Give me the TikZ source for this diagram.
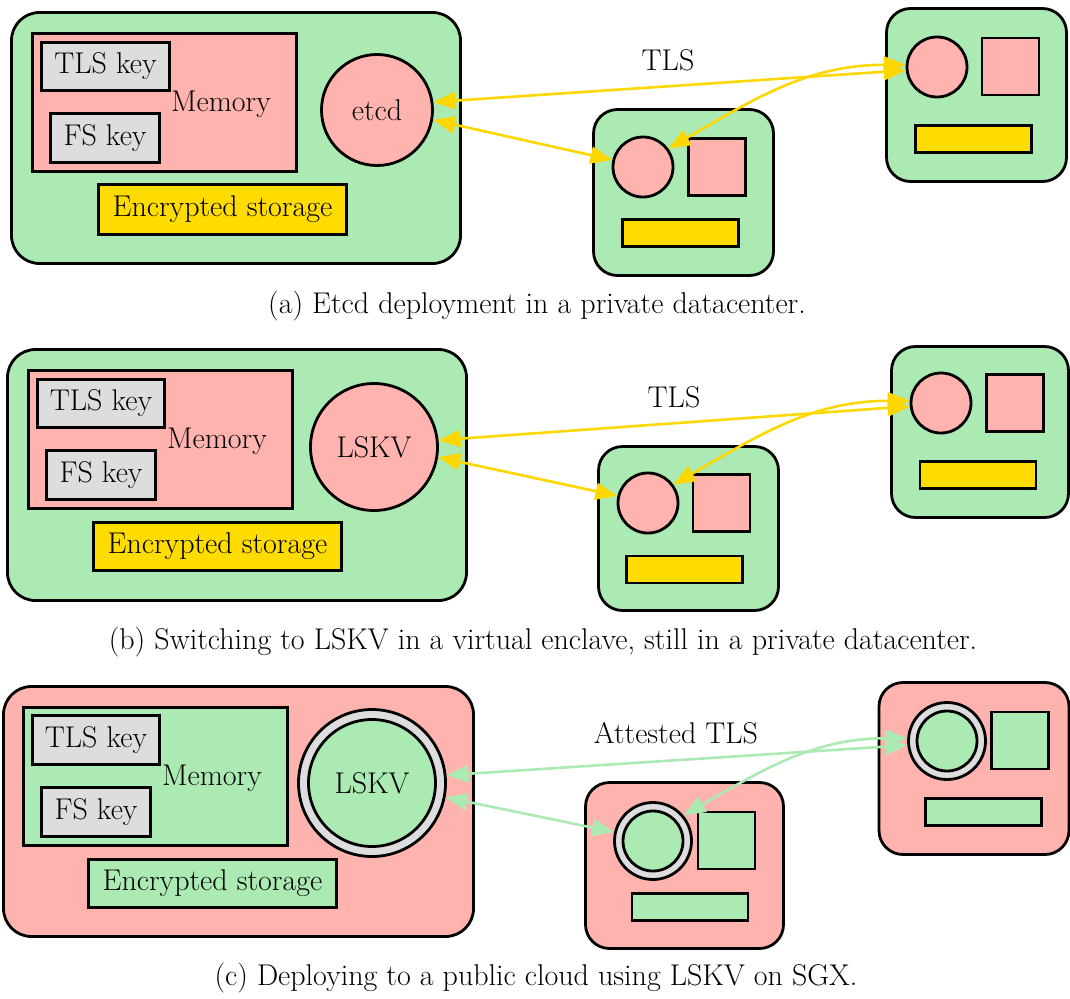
\documentclass[tikz,border=0pt]{standalone}
\usepackage{xcolor}
\usepackage{tikz}
\usetikzlibrary{arrows.meta}
\definecolor{hostgreen}{HTML}{ABEAB3}
\definecolor{hostred}{HTML}{FFB3AE}
\definecolor{keygray}{HTML}{DDDDDD}
\definecolor{storegold}{HTML}{FFDC00}
\definecolor{linkgold}{HTML}{FFD700}

\begin{document}
\begin{tikzpicture}[
x=1pt, y=-1pt,
font=\fontsize{30}{34}\selectfont,
host/.style={draw, line width=2.8pt, rounded corners=28pt, inner sep=0pt},
part/.style={draw, line width=2.8pt, inner sep=0pt},
orb/.style={draw, circle, line width=2.8pt, inner sep=0pt},
link/.style={{Triangle[length=22pt,width=17pt]}-{Triangle[length=22pt,width=17pt]}, line width=2.6pt},
captxt/.style={inner sep=0pt}
]
\useasboundingbox (0,0) rectangle (1070,998);

% (a) etcd in a private datacenter
\node[host, fill=hostgreen, minimum width=449, minimum height=251] (hostA) at (236,138) {};
\node[part, fill=hostred, minimum width=264, minimum height=138] (memA) at (164.5,102.5) {};
\node[part, fill=keygray, minimum width=128, minimum height=48] (tlsA) at (105.5,66.5) {TLS key};
\node[part, fill=keygray, minimum width=109, minimum height=49] (fsA) at (105,138) {FS key};
\node (memtxtA) at (221,104) {Memory};
\node[part, fill=storegold, minimum width=248, minimum height=50] (encA) at (222.5,209.5) {Encrypted storage};
\node[orb, fill=hostred, minimum size=111] (etcdA) at (377,110) {etcd};
\node[host, fill=hostgreen, rounded corners=24pt, minimum width=180, minimum height=166] (midA) at (683.5,192.5) {};
\node[orb, fill=hostred, minimum size=60] (mcircA) at (643,167) {};
\node[part, fill=hostred, minimum size=57] (msqA) at (717,167) {};
\node[part, fill=storegold, minimum width=116, minimum height=27] (mbarA) at (680.5,233) {};
\node[host, fill=hostgreen, rounded corners=24pt, minimum width=180, minimum height=173] (rightA) at (976.5,95) {};
\node[orb, fill=hostred, minimum size=60] (rcircA) at (937,67) {};
\node[part, fill=hostred, minimum size=57] (rsqA) at (1010.5,66.5) {};
\node[part, fill=storegold, minimum width=116, minimum height=27] (rbarA) at (973.5,139) {};
\node (tlsnameA) at (668,60) {TLS};
\draw[link, draw=linkgold] (etcdA.8) -- (rcircA.186);
\draw[link, draw=linkgold] (etcdA.-10) -- (mcircA.167);
\draw[link, draw=linkgold] (mcircA.36) to[out=30, in=180] (rcircA.176);
\node[captxt] (capA) at (537,306) {(a) Etcd deployment in a private datacenter.};

% (b) LSKV in a virtual enclave
\node[host, fill=hostgreen, minimum width=459, minimum height=251] (hostB) at (237,475) {};
\node[part, fill=hostred, minimum width=264, minimum height=138] (memB) at (160.5,439.5) {};
\node[part, fill=keygray, minimum width=127, minimum height=48] (tlsB) at (101,403.5) {TLS key};
\node[part, fill=keygray, minimum width=109, minimum height=49] (fsB) at (101,475) {FS key};
\node (memtxtB) at (217,441) {Memory};
\node[part, fill=storegold, minimum width=248, minimum height=48] (encB) at (217.5,546.5) {Encrypted storage};
\node[orb, fill=hostred, minimum size=127] (lskvB) at (374,447) {LSKV};
\node[host, fill=hostgreen, rounded corners=24pt, minimum width=180, minimum height=164] (midB) at (688.5,528.5) {};
\node[orb, fill=hostred, minimum size=60] (mcircB) at (648,503) {};
\node[part, fill=hostred, minimum size=57] (msqB) at (721.5,503) {};
\node[part, fill=storegold, minimum width=116, minimum height=27] (mbarB) at (684.5,569.5) {};
\node[host, fill=hostgreen, rounded corners=24pt, minimum width=177, minimum height=171] (rightB) at (980,432) {};
\node[orb, fill=hostred, minimum size=60] (rcircB) at (941,403) {};
\node[part, fill=hostred, minimum size=57] (rsqB) at (1015,403) {};
\node[part, fill=storegold, minimum width=116, minimum height=27] (rbarB) at (978,475) {};
\node (tlsnameB) at (674,397) {TLS};
\draw[link, draw=linkgold] (lskvB.6) -- (rcircB.186);
\draw[link, draw=linkgold] (lskvB.-9) -- (mcircB.167);
\draw[link, draw=linkgold] (mcircB.36) to[out=30, in=180] (rcircB.176);
\node[captxt] (capB) at (543,642) {(b) Switching to LSKV in a virtual enclave, still in a private datacenter.};

% (c) LSKV on SGX in a public cloud
\node[host, fill=hostred, minimum width=470, minimum height=250] (hostC) at (238.5,811.5) {};
\node[part, fill=hostgreen, minimum width=264, minimum height=138] (memC) at (155.5,776.5) {};
\node[part, fill=keygray, minimum width=127, minimum height=49] (tlsC) at (96,740) {TLS key};
\node[part, fill=keygray, minimum width=109, minimum height=49] (fsC) at (96,812) {FS key};
\node (memtxtC) at (212,778) {Memory};
\node[part, fill=hostgreen, minimum width=248, minimum height=48] (encC) at (212.5,883.5) {Encrypted storage};
\node[orb, fill=keygray, minimum size=147] (ringC) at (372,783) {};
\node[orb, fill=hostgreen, minimum size=127] (lskvC) at (372,783) {LSKV};
\node[host, fill=hostred, rounded corners=24pt, minimum width=198, minimum height=166] (midC) at (684.5,865.5) {};
\node[orb, fill=keygray, minimum size=77] (mringC) at (653,841) {};
\node[orb, fill=hostgreen, minimum size=60] (mcircC) at (653,841) {};
\node[part, fill=hostgreen, minimum size=57] (msqC) at (726.5,840.5) {};
\node[part, fill=hostgreen, minimum width=116, minimum height=27] (mbarC) at (690,907) {};
\node[host, fill=hostred, rounded corners=24pt, minimum width=190, minimum height=172] (rightC) at (974,768.5) {};
\node[orb, fill=keygray, minimum size=77] (rringC) at (947,741) {};
\node[orb, fill=hostgreen, minimum size=60] (rcircC) at (947,741) {};
\node[part, fill=hostgreen, minimum size=57] (rsqC) at (1020,740.5) {};
\node[part, fill=hostgreen, minimum width=116, minimum height=27] (rbarC) at (983.5,812) {};
\node (tlsnameC) at (676,733) {Attested TLS};
\draw[link, draw=hostgreen] (ringC.6) -- (rringC.186);
\draw[link, draw=hostgreen] (ringC.-11) -- (mringC.167);
\draw[link, draw=hostgreen] (mringC.40) to[out=30, in=180] (rringC.176);
\node[captxt] (capC) at (536,978) {(c) Deploying to a public cloud using LSKV on SGX.};
\end{tikzpicture}
\end{document}
